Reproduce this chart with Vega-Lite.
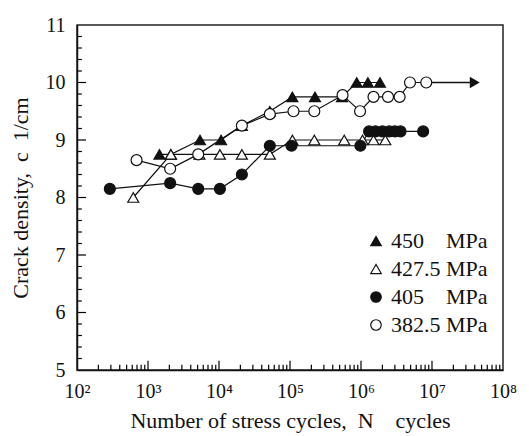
{
  "$schema": "https://vega.github.io/schema/vega-lite/v6.json",
  "width": 426,
  "height": 345,
  "autosize": "none",
  "padding": {"left": 77, "top": 25, "right": 26, "bottom": 66},
  "background": "white",
  "config": {
    "view": {"stroke": "#222", "strokeWidth": 1.5},
    "font": "Liberation Serif"
  },
  "datasets": {
    "pts": [
      {"stress": "450", "N": 1450, "c": 8.75},
      {"stress": "450", "N": 2100, "c": 8.75},
      {"stress": "450", "N": 5400, "c": 9.0},
      {"stress": "450", "N": 10700, "c": 9.0},
      {"stress": "450", "N": 21000, "c": 9.25},
      {"stress": "450", "N": 52000, "c": 9.5},
      {"stress": "450", "N": 108000, "c": 9.75},
      {"stress": "450", "N": 225000, "c": 9.75},
      {"stress": "450", "N": 540000, "c": 9.75},
      {"stress": "450", "N": 870000, "c": 10.0},
      {"stress": "450", "N": 1250000, "c": 10.0},
      {"stress": "450", "N": 1850000, "c": 10.0},
      {"stress": "427.5", "N": 620, "c": 8.0},
      {"stress": "427.5", "N": 2100, "c": 8.75},
      {"stress": "427.5", "N": 5300, "c": 8.75},
      {"stress": "427.5", "N": 10300, "c": 8.75},
      {"stress": "427.5", "N": 21000, "c": 8.75},
      {"stress": "427.5", "N": 52000, "c": 8.75},
      {"stress": "427.5", "N": 108000, "c": 9.0},
      {"stress": "427.5", "N": 220000, "c": 9.0},
      {"stress": "427.5", "N": 580000, "c": 9.0},
      {"stress": "427.5", "N": 1050000, "c": 9.0},
      {"stress": "427.5", "N": 1500000, "c": 9.0},
      {"stress": "427.5", "N": 2200000, "c": 9.0},
      {"stress": "405", "N": 290, "c": 8.15},
      {"stress": "405", "N": 2050, "c": 8.25},
      {"stress": "405", "N": 5100, "c": 8.15},
      {"stress": "405", "N": 10300, "c": 8.15},
      {"stress": "405", "N": 21000, "c": 8.4},
      {"stress": "405", "N": 52000, "c": 8.9},
      {"stress": "405", "N": 105000, "c": 8.9},
      {"stress": "405", "N": 980000, "c": 8.9},
      {"stress": "405", "N": 1300000, "c": 9.15},
      {"stress": "405", "N": 1600000, "c": 9.15},
      {"stress": "405", "N": 2000000, "c": 9.15},
      {"stress": "405", "N": 2500000, "c": 9.15},
      {"stress": "405", "N": 3000000, "c": 9.15},
      {"stress": "405", "N": 3600000, "c": 9.15},
      {"stress": "405", "N": 7500000, "c": 9.15},
      {"stress": "382.5", "N": 690, "c": 8.65},
      {"stress": "382.5", "N": 2050, "c": 8.5},
      {"stress": "382.5", "N": 5100, "c": 8.75},
      {"stress": "382.5", "N": 21000, "c": 9.25},
      {"stress": "382.5", "N": 52000, "c": 9.45},
      {"stress": "382.5", "N": 112000, "c": 9.5},
      {"stress": "382.5", "N": 220000, "c": 9.5},
      {"stress": "382.5", "N": 550000, "c": 9.78},
      {"stress": "382.5", "N": 970000, "c": 9.5},
      {"stress": "382.5", "N": 1500000, "c": 9.75},
      {"stress": "382.5", "N": 2400000, "c": 9.75},
      {"stress": "382.5", "N": 3500000, "c": 9.75},
      {"stress": "382.5", "N": 4900000, "c": 10.0},
      {"stress": "382.5", "N": 8300000, "c": 10.0}
    ],
    "arrow": [
      {"N": 8300000, "N2": 40000000, "c": 10.0}
    ],
    "xmajor": [{"v": 1000}, {"v": 10000}, {"v": 100000}, {"v": 1000000}, {"v": 10000000}],
    "xminor": [{"v": 200},{"v": 300},{"v": 400},{"v": 500},{"v": 600},{"v": 700},{"v": 800},{"v": 900},{"v": 2000},{"v": 3000},{"v": 4000},{"v": 5000},{"v": 6000},{"v": 7000},{"v": 8000},{"v": 9000},{"v": 20000},{"v": 30000},{"v": 40000},{"v": 50000},{"v": 60000},{"v": 70000},{"v": 80000},{"v": 90000},{"v": 200000},{"v": 300000},{"v": 400000},{"v": 500000},{"v": 600000},{"v": 700000},{"v": 800000},{"v": 900000},{"v": 2000000},{"v": 3000000},{"v": 4000000},{"v": 5000000},{"v": 6000000},{"v": 7000000},{"v": 8000000},{"v": 9000000},{"v": 20000000},{"v": 30000000},{"v": 40000000},{"v": 50000000},{"v": 60000000},{"v": 70000000},{"v": 80000000},{"v": 90000000}],
    "ymajor": [{"v": 6}, {"v": 7}, {"v": 8}, {"v": 9}, {"v": 10}],
    "yminor": [{"v": 5.2},{"v": 5.4},{"v": 5.6},{"v": 5.8},{"v": 6.2},{"v": 6.4},{"v": 6.6},{"v": 6.8},{"v": 7.2},{"v": 7.4},{"v": 7.6},{"v": 7.8},{"v": 8.2},{"v": 8.4},{"v": 8.6},{"v": 8.8},{"v": 9.2},{"v": 9.4},{"v": 9.6},{"v": 9.8},{"v": 10.2},{"v": 10.4},{"v": 10.6},{"v": 10.8}]
  },
  "resolve": {"axis": {"x": "independent", "y": "independent"}},
  "layer": [
    {
      "data": {"name": "xmajor"},
      "mark": {"type": "rule", "color": "black", "strokeWidth": 1.2},
      "encoding": {
        "x": {"field": "v", "type": "quantitative", "scale": {"type": "log", "domain": [100, 100000000], "nice": false}, "axis": null},
        "y": {"datum": 5, "type": "quantitative", "scale": {"domain": [5, 11], "nice": false, "zero": false}, "axis": null},
        "y2": {"datum": 5.16}
      }
    },
    {
      "data": {"name": "xminor"},
      "mark": {"type": "rule", "color": "black", "strokeWidth": 1.2},
      "encoding": {
        "x": {"field": "v", "type": "quantitative", "axis": null},
        "y": {"datum": 5, "type": "quantitative", "axis": null},
        "y2": {"datum": 5.09}
      }
    },
    {
      "data": {"name": "ymajor"},
      "mark": {"type": "rule", "color": "black", "strokeWidth": 1.2},
      "encoding": {
        "y": {"field": "v", "type": "quantitative", "axis": null},
        "x": {"datum": 100, "type": "quantitative", "axis": null},
        "x2": {"datum": 134}
      }
    },
    {
      "data": {"name": "yminor"},
      "mark": {"type": "rule", "color": "black", "strokeWidth": 1.2},
      "encoding": {
        "y": {"field": "v", "type": "quantitative", "axis": null},
        "x": {"datum": 100, "type": "quantitative", "axis": null},
        "x2": {"datum": 117}
      }
    },
    {
      "data": {"name": "pts"},
      "mark": {"type": "line", "color": "#111", "strokeWidth": 1.2},
      "encoding": {
        "x": {"field": "N", "type": "quantitative", "axis": null},
        "y": {"field": "c", "type": "quantitative", "axis": null},
        "detail": {"field": "stress"}
      }
    },
    {
      "data": {"name": "arrow"},
      "mark": {"type": "rule", "color": "#111", "strokeWidth": 1.5},
      "encoding": {
        "x": {"field": "N", "type": "quantitative", "axis": null},
        "x2": {"field": "N2"},
        "y": {"field": "c", "type": "quantitative", "axis": null}
      }
    },
    {
      "data": {"name": "arrow"},
      "mark": {"type": "point", "shape": "triangle-right", "filled": true, "color": "#111", "size": 130, "opacity": 1},
      "encoding": {
        "x": {"field": "N2", "type": "quantitative", "axis": null},
        "y": {"field": "c", "type": "quantitative", "axis": null}
      }
    },
    {
      "data": {"name": "pts"},
      "mark": {"type": "point", "filled": true, "stroke": "#111", "strokeWidth": 1.2, "size": 120, "opacity": 1},
      "encoding": {
        "x": {
          "field": "N", "type": "quantitative",
          "scale": {"type": "log", "domain": [100, 100000000], "nice": false},
          "axis": {
            "orient": "bottom",
            "values": [100,1000,10000,100000,1000000,10000000,100000000],
            "labelExpr": "'10' + substring('⁰¹²³⁴⁵⁶⁷⁸⁹', round(log(datum.value)/LN10), round(log(datum.value)/LN10) + 1)",
            "ticks": true,
            "tickSize": -9,
            "tickOpacity": 0,
            "labelPadding": 20,
            "labelOverlap": false,
            "labelFlush": false,
            "grid": false,
            "domainColor": "#111",
            "domainWidth": 1.5,
            "labelFont": "Liberation Serif",
            "labelFontSize": 20,
            "labelColor": "#111",
            "title": "Number of stress cycles,\u00a0\u00a0N\u00a0\u00a0\u00a0 cycles",
            "titleFont": "Liberation Serif",
            "titleFontSize": 22,
            "titleFontWeight": "normal",
            "titleColor": "#111",
            "titlePadding": 9
          }
        },
        "y": {
          "field": "c", "type": "quantitative",
          "scale": {"domain": [5, 11], "nice": false, "zero": false},
          "axis": {
            "orient": "left",
            "values": [5,6,7,8,9,10,11],
            "format": "d",
            "ticks": true,
            "tickSize": -9,
            "tickOpacity": 0,
            "labelPadding": 21,
            "labelOverlap": false,
            "labelFlush": false,
            "grid": false,
            "domainColor": "#111",
            "domainWidth": 1.5,
            "labelFont": "Liberation Serif",
            "labelFontSize": 20,
            "labelColor": "#111",
            "title": "Crack density,\u00a0 c \u00a01/cm",
            "titleFont": "Liberation Serif",
            "titleFontSize": 22,
            "titleFontWeight": "normal",
            "titleColor": "#111",
            "titlePadding": 13
          }
        },
        "shape": {
          "field": "stress", "type": "nominal",
          "scale": {"domain": ["450", "427.5", "405", "382.5"], "range": ["triangle-up", "triangle-up", "circle", "circle"]},
          "legend": {
            "title": null, "orient": "none", "legendX": 288, "legendY": 205,
            "labelFont": "Liberation Serif", "labelFontSize": 22, "labelColor": "#111",
            "symbolSize": 110, "symbolStrokeWidth": 1.2,
            "rowPadding": 6, "labelOffset": 4,
            "labelExpr": "datum.label == '450' ? '450\u00a0\u00a0\u00a0\u00a0MPa' : datum.label == '405' ? '405\u00a0\u00a0\u00a0\u00a0MPa' : datum.label + ' MPa'",
            "encode": {"symbols": {"stroke": {"value": "#111"}, "strokeWidth": {"value": 1.2}}}
          }
        },
        "fill": {
          "field": "stress", "type": "nominal",
          "scale": {"domain": ["450", "427.5", "405", "382.5"], "range": ["#111", "white", "#111", "white"]},
          "legend": {
            "title": null, "orient": "none", "legendX": 288, "legendY": 205,
            "labelFont": "Liberation Serif", "labelFontSize": 22, "labelColor": "#111",
            "symbolSize": 110, "symbolStrokeWidth": 1.2,
            "rowPadding": 6, "labelOffset": 4,
            "labelExpr": "datum.label == '450' ? '450\u00a0\u00a0\u00a0\u00a0MPa' : datum.label == '405' ? '405\u00a0\u00a0\u00a0\u00a0MPa' : datum.label + ' MPa'",
            "encode": {"symbols": {"stroke": {"value": "#111"}, "strokeWidth": {"value": 1.2}}}
          }
        }
      }
    }
  ]
}
